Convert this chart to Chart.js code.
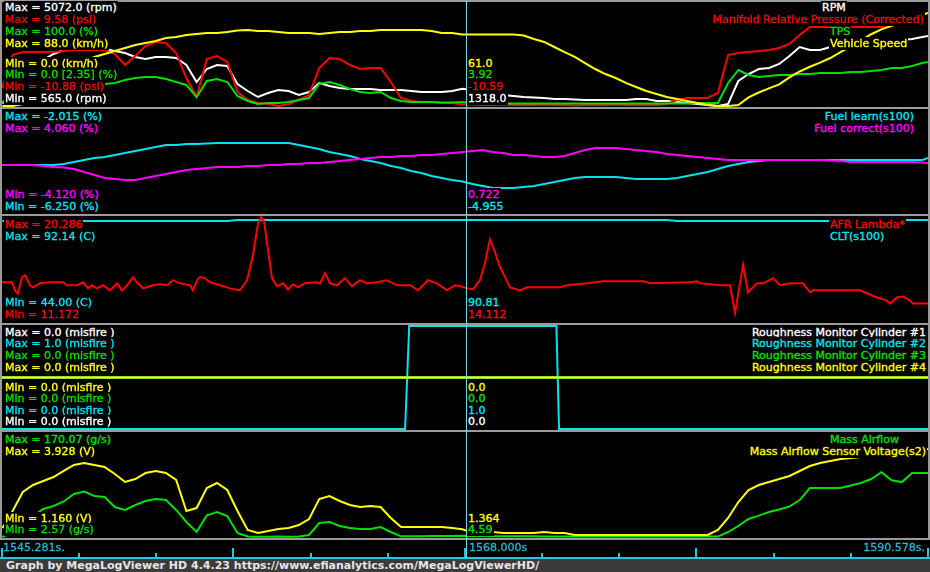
<!DOCTYPE html>
<html>
<head>
<meta charset="utf-8">
<script src="https://cdn.jsdelivr.net/npm/chart.js@4/dist/chart.umd.min.js"></script>
<style>
html,body{margin:0;padding:0;background:#000;width:930px;height:572px;overflow:hidden;}
#root{position:relative;width:930px;height:572px;background:#000;font-family:"DejaVu Sans",Verdana,sans-serif;}
.panel{position:absolute;left:0;width:926px;border:2px solid #9a9a9a;background:#000;}
canvas{position:absolute;}
.lbl{position:absolute;font-size:11px;line-height:13px;height:13px;white-space:pre;background:#000;padding:0 1px;z-index:5;-webkit-text-stroke:0.35px currentColor;}
.tl{position:absolute;font-size:11px;line-height:13px;white-space:pre;color:#22bccf;z-index:5;-webkit-text-stroke:0.3px currentColor;}
#footer{position:absolute;left:0;top:559px;width:930px;height:13px;background:#3b3b3b;color:#e6e6e6;font-weight:bold;font-size:11px;line-height:13px;white-space:pre;padding-left:6px;box-sizing:border-box;}
#baseline{position:absolute;left:0;top:557px;width:930px;height:2px;background:#1fc8dc;}
#cursor{position:absolute;top:0;width:1px;height:558px;background:#74d6e6;z-index:4;}
</style>
</head>
<body>
<div id="root"></div>
<script>
// ---------------- DATA ----------------
const T0 = 1545.281, T1 = 1590.578, CURSOR_T = 1568.000;

const time = [1545.3,1545.8,1546.3,1546.8,1547.3,1547.8,1548.3,1548.8,1549.3,1549.8,
1550.3,1550.8,1551.3,1551.8,1552.3,1552.8,1553.3,1553.8,1554.3,1554.8,
1555.3,1555.8,1556.3,1556.8,1557.3,1557.8,1558.3,1558.8,1559.3,1559.8,
1560.3,1560.8,1561.3,1561.8,1562.3,1562.8,1563.3,1563.8,1564.3,1564.8,
1565.3,1565.8,1566.3,1566.8,1567.3,1567.8,1568.3,1568.8,1569.3,1569.8,
1570.3,1570.8,1571.3,1571.8,1572.3,1572.8,1573.3,1573.8,1574.3,1574.8,
1575.3,1575.8,1576.3,1576.8,1577.3,1577.8,1578.3,1578.8,1579.3,1579.8,
1580.3,1580.8,1581.3,1581.8,1582.3,1582.8,1583.3,1583.8,1584.3,1584.8,
1585.3,1585.8,1586.3,1586.8,1587.3,1587.8,1588.3,1588.8,1589.3,1589.8,
1590.3,1590.578];

// Panel 1
const rpm = [696,915,1484,2140,2578,2841,3016,3016,3059,3103,
3059,2972,2884,2709,2622,2709,2709,2665,2359,1615,
2184,2359,2315,1528,1221,959,1134,1265,1221,1046,
1178,1571,1440,1353,1309,1309,1309,1265,1265,1265,
1221,1178,1178,1178,1221,1318,1265,1178,1134,1046,
1003,959,937,915,871,871,849,828,828,828,
828,828,871,871,784,784,740,696,653,609,
565,653,1659,1965,2184,2228,2403,2753,3147,3016,
3016,3147,3234,3278,3322,3366,3366,3410,3453,3497,
3584,3628];
const mapPsi = [-7.30,-0.75,-0.15,-0.15,-0.15,-0.15,0.05,0.24,0.24,0.24,
0.24,-0.55,-2.74,-0.95,1.04,1.83,1.63,-0.35,-5.32,-9.09,
-1.54,-0.95,-2.14,-8.10,-9.69,-10.28,-10.48,-10.88,-10.48,-9.69,
-8.69,-3.33,-1.35,-1.54,-2.74,-3.53,-3.33,-3.33,-6.11,-9.29,
-9.89,-10.09,-10.09,-10.28,-10.28,-10.59,-10.59,-10.68,-10.68,-10.59,
-10.68,-10.68,-10.68,-10.59,-10.68,-10.68,-10.78,-10.68,-10.68,-10.68,
-10.59,-10.68,-10.68,-10.68,-10.68,-10.48,-9.69,-9.29,-9.29,-9.29,
-8.30,-0.75,-0.35,-0.15,0.05,0.24,0.64,1.44,3.22,4.81,
4.81,4.81,4.81,4.81,4.81,4.81,4.81,5.01,5.61,6.40,
7.20,7.59];
const tps = [3.88,10.68,17.48,19.42,20.39,20.39,21.36,21.36,21.36,21.36,
21.36,22.33,25.24,27.18,28.16,28.16,26.21,23.30,20.39,8.74,
24.27,26.21,23.30,9.71,4.85,1.94,2.91,2.91,3.88,5.83,
7.77,21.36,23.30,20.39,16.50,13.59,12.62,13.59,7.77,4.85,
3.88,3.88,3.88,3.40,3.40,3.92,2.43,2.43,2.43,2.43,
2.43,2.35,2.43,2.43,2.43,2.35,2.43,2.43,2.43,2.35,
2.43,2.43,2.35,2.43,2.43,2.43,2.43,2.43,2.91,2.91,
2.91,22.33,34.95,30.10,28.16,29.13,30.10,30.10,31.07,31.07,
32.04,32.04,32.04,33.01,33.01,33.98,34.95,36.89,36.89,38.83,
41.75,42.72];
const speed = [0,0,1.7,6.8,13.7,20.5,27.3,33.3,38.4,41.9,
44.4,47.0,49.6,52.1,53.8,55.5,58.1,59.0,60.7,61.5,
62.4,62.4,63.2,64.5,64.9,64.1,64.1,63.2,62.4,62.4,
62.4,61.5,62.4,63.2,63.2,64.1,64.1,64.9,64.9,64.9,
64.9,64.9,64.1,62.4,62.4,61.0,61.0,61.0,61.0,61.0,
61.0,60.2,57.2,54.7,50.4,46.1,41.9,36.7,31.6,27.3,
23.9,19.7,16.2,12.8,10.3,7.7,6.0,4.3,2.6,0.9,
0,0,0.9,7.3,11.5,15.0,18.5,24.5,29.5,33.5,
37.0,41.0,46.0,51.0,56.0,61.3,65.5,68.5,72.5,75.8,
78.0,79.5];

// Panel 2
const fuelLearn = [-4.276,-4.276,-4.276,-4.276,-4.276,-4.276,-4.235,-4.153,-4.071,-3.989,
-3.947,-3.865,-3.783,-3.701,-3.619,-3.536,-3.454,-3.454,-3.413,-3.413,
-3.392,-3.372,-3.372,-3.372,-3.372,-3.372,-3.372,-3.372,-3.372,-3.454,
-3.536,-3.619,-3.742,-3.824,-3.906,-4.030,-4.112,-4.194,-4.317,-4.400,
-4.523,-4.605,-4.729,-4.811,-4.893,-4.955,-5.058,-5.140,-5.222,-5.222,
-5.222,-5.181,-5.140,-5.058,-4.975,-4.893,-4.811,-4.770,-4.770,-4.770,
-4.770,-4.811,-4.852,-4.852,-4.852,-4.852,-4.811,-4.729,-4.646,-4.564,
-4.441,-4.317,-4.235,-4.153,-4.112,-4.071,-4.071,-4.071,-4.071,-4.071,
-4.071,-4.071,-4.071,-4.071,-4.071,-4.071,-4.071,-4.071,-4.071,-4.071,
-4.071,-3.989];
const fuelCorrect = [-0.308,-0.308,-0.308,-0.308,-0.387,-0.467,-0.507,-0.626,-0.864,-1.102,
-1.340,-1.420,-1.499,-1.499,-1.340,-1.182,-1.023,-0.864,-0.705,-0.626,
-0.546,-0.467,-0.467,-0.467,-0.387,-0.387,-0.308,-0.308,-0.229,-0.229,
-0.149,-0.149,-0.070,0.010,0.089,0.169,0.248,0.327,0.327,0.407,
0.407,0.486,0.486,0.566,0.645,0.722,0.804,0.883,0.724,0.645,
0.486,0.486,0.407,0.327,0.327,0.407,0.645,0.883,1.042,1.042,
1.042,0.963,0.883,0.804,0.724,0.566,0.486,0.407,0.327,0.248,
0.169,0.089,0.089,0.089,0.089,0.089,0.089,0.089,0.089,0.089,
0.089,0.049,0.010,-0.070,-0.070,-0.070,-0.070,-0.070,-0.070,-0.070,
-0.109,-0.149];

// Panel 3
const afrTime = [1545.28,1545.77,1545.92,1546.06,1546.26,1546.41,1546.65,1546.80,1547.14,1547.63,
1548.27,1548.46,1548.95,1549.24,1549.49,1549.68,1549.93,1550.22,1550.56,1550.91,
1551.15,1551.40,1551.69,1551.88,1552.18,1552.67,1553.01,1553.35,1553.65,1553.99,
1554.48,1554.62,1554.82,1554.97,1555.21,1555.46,1555.95,1556.43,1556.92,1557.27,
1557.56,1557.80,1557.95,1558.10,1558.29,1558.49,1558.73,1559.03,1559.27,1559.52,
1559.76,1560.10,1560.59,1560.84,1561.08,1561.33,1561.67,1562.06,1562.40,1562.79,
1563.14,1563.63,1564.11,1564.60,1565.24,1565.63,1566.12,1566.56,1567.05,1567.44,
1567.69,1568.03,1568.32,1568.66,1568.91,1569.15,1569.30,1569.64,1570.13,1570.62,
1570.96,1572.58,1572.92,1573.90,1574.68,1576.64,1576.98,1578.94,1579.28,1579.42,
1580.40,1580.89,1581.14,1581.53,1581.77,1582.21,1582.51,1583.00,1583.34,1583.83,
1584.46,1584.81,1584.95,1587.25,1588.08,1588.57,1588.72,1589.06,1589.36,1589.70,
1589.84,1590.578];
const afr = [14.62,14.62,13.92,13.65,15.07,15.24,14.36,14.18,14.53,14.62,
14.62,14.36,14.36,14.62,14.09,14.36,14.09,14.36,13.92,14.53,
13.92,14.36,15.07,14.62,14.09,14.36,14.45,14.36,14.80,14.53,
14.36,13.92,14.80,15.07,14.98,14.62,14.36,14.09,13.92,14.80,
17.01,19.67,20.28,19.93,17.45,14.98,14.27,14.53,14.00,14.45,
14.18,14.53,14.62,14.53,15.42,14.53,14.36,14.98,14.27,14.80,
14.53,14.62,14.80,14.36,14.36,13.92,14.80,14.53,13.92,14.36,
14.27,14.11,14.00,14.80,16.30,18.34,17.72,15.95,14.18,13.92,
14.18,14.18,14.36,14.53,14.71,14.71,14.53,14.62,14.71,14.53,
14.36,14.36,11.97,16.13,13.74,14.53,14.53,14.98,14.36,14.53,
14.53,13.74,13.92,13.92,13.30,13.03,12.77,13.30,13.38,13.03,
12.77,12.77];
const clt = [90.35,90.35,90.35,90.35,90.35,90.35,90.35,90.35,90.35,90.35,
90.35,90.35,90.35,90.35,90.35,90.35,90.35,90.35,90.35,90.35,
90.35,90.35,90.35,90.81,90.81,90.81,90.81,90.81,90.81,90.81,
90.81,90.81,90.81,90.81,90.81,90.81,90.81,90.81,90.81,90.81,
90.81,90.81,90.81,90.81,90.81,90.81,90.81,90.81,90.81,90.81,
90.81,90.81,90.81,90.81,90.81,90.81,90.81,90.81,90.81,90.81,
90.81,90.81,90.81,90.81,90.81,90.81,90.35,90.35,90.35,90.35,
90.35,90.35,90.35,90.35,90.35,90.35,90.35,90.35,90.35,90.35,
90.35,90.35,90.81,90.81,90.81,90.81,90.81,90.81,90.81,90.81,
90.81,90.81];

// Panel 4
const roughTime = [1545.281,1565.00,1565.20,1572.40,1572.53,1590.578];
const rough1 = [0,0,0,0,0,0];
const rough2 = [0,0,1,1,0,0];
const rough3 = [0,0,0,0,0,0];
const rough4 = [0,0,0,0,0,0];

// Panel 5
const maf = [2.57,10.6,23.5,36.4,47.7,52.5,59.8,71.8,75.9,68.6,
67.0,50.9,46.1,54.1,60.5,63.8,62.2,46.1,26.7,10.6,
37.4,42.8,36.4,9.0,3.4,3.0,3.0,3.2,3.0,3.2,
5.8,25.1,26.7,20.3,17.1,15.5,15.5,18.7,10.6,3.6,
3.8,3.8,4.0,4.0,4.2,4.59,4.2,4.0,3.8,3.8,
3.6,3.6,3.6,3.5,3.5,3.5,3.4,3.4,3.4,3.4,
3.4,3.4,3.4,3.4,3.4,3.4,3.4,3.3,3.3,3.3,
3.3,10.6,20.3,31.6,37.0,42.8,47.0,51.7,62.0,81.5,
81.5,81.5,81.5,85.5,89.5,96.0,107.0,94.0,91.0,105.6,
105.6,105.6];
const mafVolt = [1.400,1.852,2.358,2.544,2.650,2.757,2.917,3.076,3.130,3.076,
3.023,2.837,2.624,2.704,2.863,2.917,2.863,2.677,1.850,1.930,
2.464,2.597,2.411,1.852,1.346,1.266,1.320,1.373,1.400,1.479,
1.639,2.171,2.251,2.118,2.012,1.958,1.985,1.958,1.666,1.426,
1.426,1.426,1.426,1.426,1.400,1.364,1.266,1.266,1.293,1.266,
1.266,1.266,1.266,1.293,1.266,1.266,1.213,1.213,1.213,1.213,
1.213,1.213,1.213,1.213,1.213,1.213,1.213,1.213,1.213,1.213,
1.346,1.666,2.092,2.411,2.544,2.624,2.704,2.784,2.917,3.050,
3.130,3.183,3.236,3.263,3.289,3.302,3.316,3.342,3.369,3.422,
3.476,3.502];

// Time axis tick times (every 1/12 of the window)
const timeTicks = [1545.281,1549.056,1552.830,1556.605,1560.380,1564.154,1567.929,1571.704,1575.479,1579.253,1583.028,1586.803,1590.578];
const timeTickLabels = ["1545.281s.","1568.000s","1590.578s."];

// ---------------- STYLE / LAYOUT ----------------
const W='#ffffff', R='#ff0000', G='#00e000', Y='#ffff00', C='#00e4f0', M='#ff00ff';
const root = document.getElementById('root');

const panels = [
  {top:0, h:105, series:[
    {t:time, v:rpm, min:565, max:5072, color:W},
    {t:time, v:mapPsi, min:-10.88, max:9.58, color:R},
    {t:time, v:tps, min:0, max:100, color:G},
    {t:time, v:speed, min:0, max:88, color:Y}]},
  {top:107, h:105, series:[
    {t:time, v:fuelLearn, min:-6.25, max:-2.015, color:C},
    {t:time, v:fuelCorrect, min:-4.12, max:4.06, color:M}]},
  {top:214, h:107, series:[
    {t:time, v:clt, min:44, max:92.14, color:C},
    {t:afrTime, v:afr, min:11.172, max:20.286, color:R}]},
  {top:323, h:105, series:[
    {t:roughTime, v:rough1, min:-1, max:1, color:W},
    {t:roughTime, v:rough2, min:0, max:1, color:C},
    {t:roughTime, v:rough3, min:-1, max:1, color:G},
    {t:roughTime, v:rough4, min:-1, max:1, color:Y}]},
  {top:430, h:106, series:[
    {t:time, v:maf, min:2.57, max:170.07, color:G},
    {t:time, v:mafVolt, min:1.16, max:3.928, color:Y}]}
];

const charts = [];
panels.forEach((p) => {
  const frame = document.createElement('div');
  frame.className = 'panel';
  frame.style.top = p.top + 'px';
  frame.style.height = p.h + 'px';
  root.appendChild(frame);
  const cv = document.createElement('canvas');
  cv.width = 926; cv.height = p.h;
  cv.style.left = '2px'; cv.style.top = (p.top + 2) + 'px';
  cv.style.width = '926px'; cv.style.height = p.h + 'px';
  root.appendChild(cv);
  const scales = { x: {type:'linear', min:T0, max:T1, display:false} };
  const n = p.series.length;
  const datasets = p.series.map((s, k) => {
    scales['y' + k] = {type:'linear', min:s.min, max:s.max, display:false, bounds:'data'};
    return {
      data: s.t.map((t, i) => ({x:t, y:s.v[i]})),
      yAxisID: 'y' + k, borderColor: s.color, backgroundColor: s.color,
      borderWidth: 2, pointRadius: 0, tension: 0, fill: false, clip: false,
      order: n - k
    };
  });
  charts.push(new Chart(cv.getContext('2d'), {
    type: 'line',
    data: {datasets},
    options: {
      animation:false, responsive:false, maintainAspectRatio:false, devicePixelRatio:1,
      events: [],
      layout: {padding:{top:1, bottom:1, left:0, right:0}},
      plugins: {legend:{display:false}, tooltip:{enabled:false}, title:{display:false}},
      scales
    }
  }));
});

// time strip
const tickPlugin = {
  id: 'timeTicks',
  afterDraw(c) {
    const ctx = c.ctx, xs = c.scales.x;
    ctx.save();
    ctx.fillStyle = '#1fc8dc';
    timeTicks.forEach((t, k) => {
      const px = Math.round(xs.getPixelForValue(t));
      const y0 = (k % 3 === 0) ? 8 : 13;
      ctx.fillRect(px - 1, y0, 2, 18 - y0);
    });
    ctx.restore();
  }
};
const tcv = document.createElement('canvas');
tcv.width = 930; tcv.height = 18;
tcv.style.left = '0px'; tcv.style.top = '540px';
tcv.style.width = '930px'; tcv.style.height = '18px';
root.appendChild(tcv);
new Chart(tcv.getContext('2d'), {
  type: 'line',
  data: {datasets: []},
  options: {
    animation:false, responsive:false, maintainAspectRatio:false, devicePixelRatio:1, events:[],
    layout: {padding:{left:2, right:2, top:0, bottom:0}},
    plugins: {legend:{display:false}, tooltip:{enabled:false}},
    scales: {x:{type:'linear', min:T0, max:T1, display:false}, y:{display:false}}
  },
  plugins: [tickPlugin]
});
const base = document.createElement('div'); base.id = 'baseline'; root.appendChild(base);

// cursor line, placed through the chart's own x scale
const cur = document.createElement('div');
cur.id = 'cursor';
cur.style.left = Math.round(2 + charts[0].scales.x.getPixelForValue(CURSOR_T)) + 'px';
root.appendChild(cur);

// ---------------- TEXT ----------------
const labels = [
  // panel 1
  ["Max = 5072.0 (rpm)", W, 5, 7], ["Max = 9.58 (psi)", R, 5, 19], ["Max = 100.0 (%)", G, 5, 31], ["Max = 88.0 (km/h)", Y, 5, 43],
  ["Min = 0.0 (km/h)", Y, 5, 63], ["Min = 0.0 [2.35] (%)", G, 5, 74.5], ["Min = -10.88 (psi)", R, 5, 86], ["Min = 565.0 (rpm)", W, 5, 98],
  ["61.0", Y, 468, 63], ["3.92", G, 468, 74.5], ["-10.59", R, 468, 86], ["1318.0", W, 468, 98],
  ["RPM", W, 822, 7], ["Manifold Relative Pressure (Corrected)", R, -925, 19], ["TPS", G, 830, 31], ["Vehicle Speed", Y, 830, 43],
  // panel 2
  ["Max = -2.015 (%)", C, 5, 116], ["Max = 4.060 (%)", M, 5, 128], ["Min = -4.120 (%)", M, 5, 194], ["Min = -6.250 (%)", C, 5, 206],
  ["0.722", M, 468, 194], ["-4.955", C, 468, 206],
  ["Fuel learn(s100)", C, -915, 116], ["Fuel correct(s100)", M, -915, 128],
  // panel 3
  ["Max = 20.286", R, 5, 224], ["Max = 92.14 (C)", C, 5, 236], ["Min = 44.00 (C)", C, 5, 302], ["Min = 11.172", R, 5, 314],
  ["90.81", C, 468, 302], ["14.112", R, 468, 314],
  ["AFR Lambda*", R, 830, 224], ["CLT(s100)", C, 830, 236],
  // panel 4
  ["Max = 0.0 (misfire )", W, 5, 332], ["Max = 1.0 (misfire )", C, 5, 343.5], ["Max = 0.0 (misfire )", G, 5, 355], ["Max = 0.0 (misfire )", Y, 5, 367],
  ["Min = 0.0 (misfire )", Y, 5, 387], ["Min = 0.0 (misfire )", G, 5, 398.5], ["Min = 0.0 (misfire )", C, 5, 410], ["Min = 0.0 (misfire )", W, 5, 421.5],
  ["0.0", Y, 468, 387], ["0.0", G, 468, 398.5], ["1.0", C, 468, 410], ["0.0", W, 468, 421.5],
  ["Roughness Monitor Cylinder #1", W, -927, 332], ["Roughness Monitor Cylinder #2", C, -927, 343.5],
  ["Roughness Monitor Cylinder #3", G, -927, 355], ["Roughness Monitor Cylinder #4", Y, -927, 367],
  // panel 5
  ["Max = 170.07 (g/s)", G, 5, 439], ["Max = 3.928 (V)", Y, 5, 451.5], ["Min = 1.160 (V)", Y, 5, 518], ["Min = 2.57 (g/s)", G, 5, 529],
  ["1.364", Y, 468, 518], ["4.59", G, 468, 529],
  ["Mass Airflow", G, 830, 439], ["Mass Airflow Sensor Voltage(s2)", Y, -927, 451.5]
];
labels.forEach(([txt, col, x, y]) => {
  const d = document.createElement('div');
  d.className = 'lbl';
  d.textContent = txt;
  d.style.color = col;
  d.style.top = (y - 6.5) + 'px';
  if (x < 0) d.style.right = (930 + x) + 'px'; else d.style.left = (x - 1) + 'px';
  root.appendChild(d);
});

const tpos = [[3, null], [469, null], [null, 925]];
timeTickLabels.forEach((txt, k) => {
  const d = document.createElement('div');
  d.className = 'tl';
  d.textContent = txt;
  d.style.top = '541px';
  if (tpos[k][0] !== null) d.style.left = tpos[k][0] + 'px'; else d.style.right = (930 - tpos[k][1]) + 'px';
  root.appendChild(d);
});

const foot = document.createElement('div');
foot.id = 'footer';
foot.textContent = 'Graph by MegaLogViewer HD 4.4.23 https://www.efianalytics.com/MegaLogViewerHD/';
root.appendChild(foot);
</script>
</body>
</html>
